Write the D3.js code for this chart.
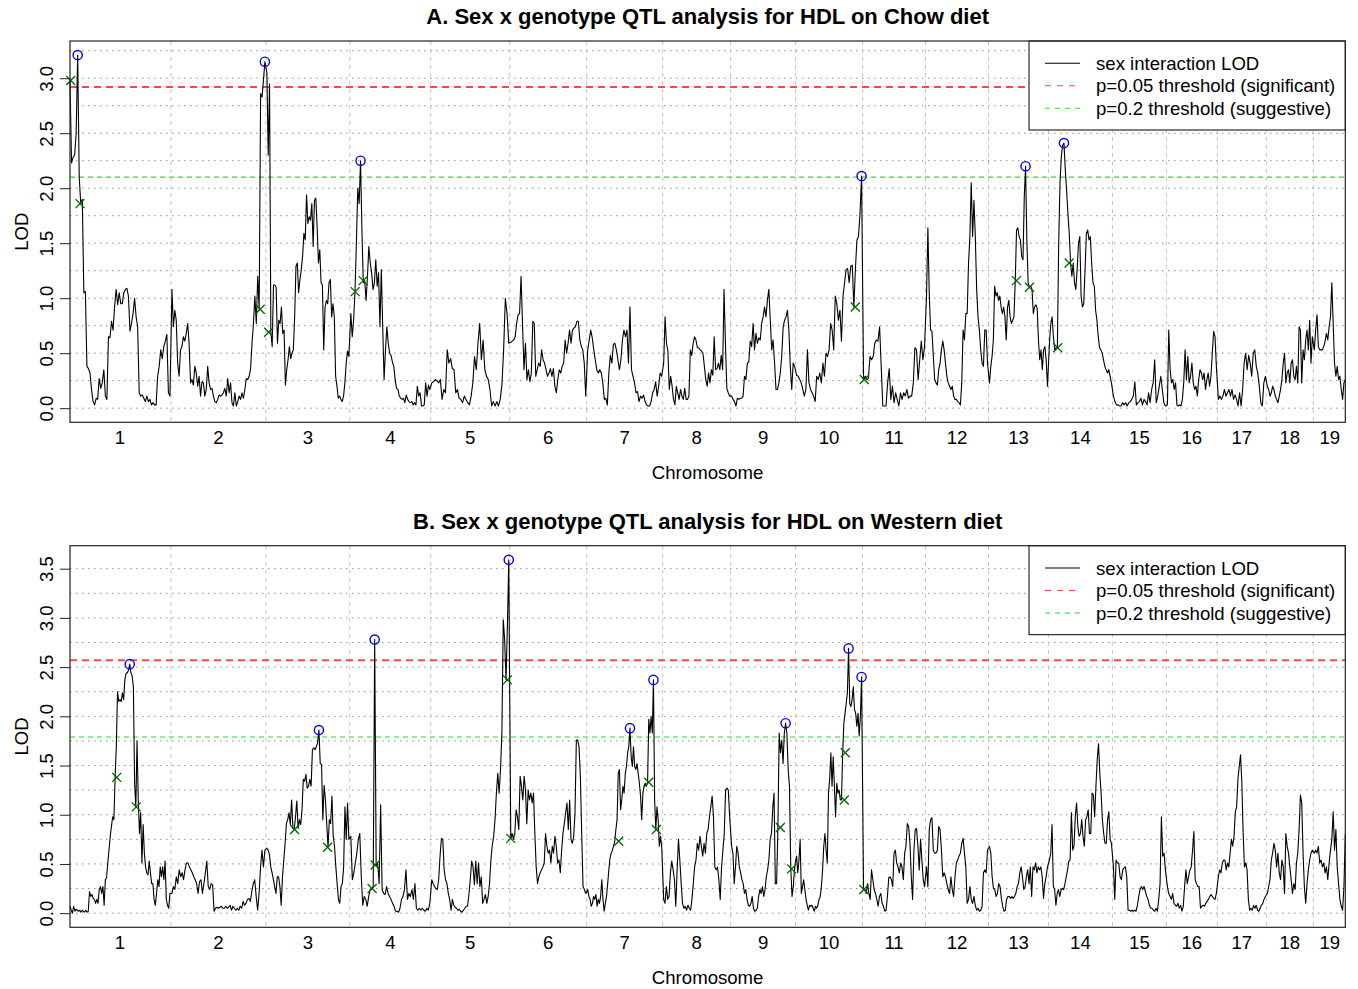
<!DOCTYPE html>
<html>
<head>
<meta charset="utf-8">
<script src="https://cdn.jsdelivr.net/npm/d3@7"></script>
<style>
body { margin: 0; background: #fff; }
svg text { font-family: "Liberation Sans", Arial, sans-serif; fill: #000; }
</style>
</head>
<body>
<div id="chart"></div>
<script>
// chromosome names and map lengths (cM)
var chrNames = ["1","2","3","4","5","6","7","8","9","10","11","12","13","14","15","16","17","18","19"];
var chrLengths = [100, 93, 82, 79, 77, 75, 74, 66, 63, 65, 61, 61, 58, 62, 52, 49, 47, 45, 31];

// LOD curve per chromosome (evenly spaced along each chromosome) - Chow diet
var chowLod = [
  [2.98,2.23,2.28,2.3,2.5,3.21,2.1,1.86,1.9,1.05,1.06,0.38,0.36,0.32,0.17,0.06,0.03,0.09,0.08,0.27,0.18,0.23,0.35,0.11,0.08,0.65,0.64,0.79,0.71,0.92,1.08,0.94,1.05,0.95,0.95,1.05,1.08,1.09,1.02,0.7,0.77,0.86,1.0,0.83,0.74,0.14,0.11,0.12,0.09,0.06,0.11,0.06,0.08,0.03,0.05,0.03,0.03,0.29,0.38,0.53,0.45,0.56,0.61,0.67,0.14,0.11],
  [1.08,0.74,0.89,0.8,0.41,0.29,0.53,0.56,0.65,0.61,0.68,0.77,0.59,0.23,0.26,0.21,0.38,0.32,0.2,0.29,0.11,0.24,0.23,0.11,0.17,0.38,0.23,0.17,0.18,0.11,0.06,0.05,0.08,0.12,0.11,0.12,0.14,0.18,0.11,0.27,0.14,0.23,0.05,0.02,0.14,0.02,0.06,0.11,0.08,0.14,0.09,0.17,0.27,0.26,0.29,0.36,0.59,0.77,1.02,0.77,1.2,0.9,2.86,2.83,2.98,3.15],
  [3.05,2.3,2.95,0.69,0.56,1.12,1.12,1.1,0.59,0.8,0.77,0.92,0.68,0.71,0.21,0.35,0.44,0.56,0.45,0.5,0.53,0.83,1.29,1.32,1.05,1.17,1.26,1.38,1.59,1.53,1.94,1.68,1.74,1.71,1.86,1.47,1.89,1.91,1.65,1.32,1.44,1.14,1.12,0.53,0.92,0.98,0.95,1.14,1.17,0.83,0.95,0.83,0.29,0.2,0.09,0.11,0.08,0.06,0.11,0.23,0.41,0.52,0.47],
  [0.86,0.65,0.8,1.06,1.5,2.0,1.86,2.25,1.62,1.14,1.16,0.98,1.2,1.47,1.32,1.23,1.08,1.14,1.35,1.11,1.23,0.74,1.26,0.74,0.26,0.53,0.74,0.59,0.5,0.48,0.42,0.38,0.26,0.18,0.17,0.11,0.09,0.08,0.09,0.05,0.12,0.08,0.06,0.05,0.06,0.03,0.05,0.03,0.2,0.11,0.14,0.02,0.02,0.03,0.23,0.11,0.21,0.17],
  [0.23,0.24,0.26,0.25,0.23,0.26,0.08,0.17,0.14,0.53,0.41,0.45,0.36,0.35,0.14,0.17,0.09,0.08,0.05,0.11,0.08,0.05,0.03,0.11,0.23,0.47,0.35,0.59,0.77,0.44,0.62,0.35,0.29,0.26,0.17,0.02,0.06,0.02,0.06,0.02,0.08,0.21,0.53,1.0,0.86,0.59],
  [0.6,0.61,0.62,0.65,0.77,0.85,0.86,1.2,0.77,0.35,0.59,0.26,0.35,0.24,0.32,0.79,0.77,0.29,0.35,0.41,0.38,0.53,0.44,0.41,0.35,0.29,0.32,0.36,0.29,0.36,0.2,0.14,0.26,0.35,0.32,0.38,0.41,0.62,0.5,0.59,0.71,0.59,0.71,0.73,0.74,0.79,0.79,0.62,0.56,0.53,0.41,0.11],
  [0.53,0.62,0.71,0.64,0.53,0.44,0.35,0.32,0.35,0.32,0.23,0.08,0.09,0.03,0.32,0.48,0.41,0.58,0.59,0.53,0.44,0.35,0.44,0.62,0.71,0.65,0.71,0.41,0.92,0.35,0.29,0.23,0.14,0.15,0.06,0.11,0.09,0.12,0.06,0.03,0.02,0.02,0.06,0.14,0.17,0.24,0.11,0.2,0.32,0.29],
  [0.41,0.83,0.59,0.52,0.17,0.29,0.2,0.08,0.03,0.2,0.14,0.08,0.17,0.11,0.08,0.18,0.08,0.08,0.11,0.53,0.48,0.59,0.65,0.62,0.55,0.55,0.53,0.52,0.5,0.38,0.26,0.2,0.32,0.23,0.35,0.3,0.65,0.35,0.36,0.41,0.35,0.48,0.35,1.08,0.59,0.18,0.14,0.11],
  [0.11,0.08,0.06,0.02,0.09,0.08,0.09,0.09,0.11,0.29,0.26,0.41,0.42,0.61,0.56,0.77,0.53,0.68,0.59,0.64,0.62,0.77,0.83,0.92,0.83,0.98,1.08,0.8,0.53,0.62,0.41,0.17,0.17,0.23,0.32,0.47,0.74,0.8,0.83,0.89,0.71,0.38,0.17,0.41,0.38],
  [0.3,0.29,0.26,0.23,0.17,0.11,0.17,0.53,0.23,0.17,0.14,0.11,0.06,0.29,0.26,0.32,0.23,0.41,0.29,0.5,0.47,0.53,0.77,0.71,0.53,1.02,0.95,0.8,0.89,0.61,1.02,1.14,1.26,1.27,1.14,1.29,1.3,0.92,1.26,1.53,1.56,1.77,2.11],
  [0.26,0.29,0.26,0.27,0.47,0.44,0.47,0.59,0.62,0.61,0.74,0.38,0.02,0.02,0.02,0.23,0.36,0.08,0.2,0.05,0.14,0.08,0.02,0.14,0.08,0.14,0.11,0.17,0.09,0.11,0.11,0.23,0.55,0.53,0.26,0.44,0.61,0.44,0.56],
  [1.02,1.64,1.05,0.71,0.7,0.48,0.26,0.23,0.21,0.35,0.41,0.53,0.61,0.53,0.41,0.29,0.23,0.2,0.17,0.2,0.11,0.08,0.08,0.06,0.05,0.03,0.23,0.71,0.62,0.86,0.86,1.32,1.56,2.05,1.56,1.89,1.56,1.08,0.83,0.71,0.53,0.41,0.38,0.71,0.71,0.41],
  [0.23,0.38,0.47,0.62,1.11,1.02,1.05,0.98,1.02,0.92,0.86,0.92,0.83,0.62,0.92,0.98,0.83,0.77,0.8,0.83,1.16,1.62,1.64,1.56,1.53,1.38,1.35,1.92,2.2,1.53,1.14,1.1,1.11,1.08,0.86,0.92,0.94,0.91,0.62,0.44,0.53,0.35,0.53,0.56,0.44,0.2],
  [0.59,0.77,0.83,0.65,0.53,0.55,0.55,1.5,2.05,2.29,2.39,2.41,2.17,1.98,1.77,1.59,1.32,1.2,1.32,1.14,1.08,1.26,1.5,1.56,1.02,0.92,0.95,1.26,1.59,1.62,1.53,1.56,1.32,1.14,1.11,0.89,0.8,0.65,0.55,0.53,0.5,0.44,0.38,0.35,0.32,0.35,0.29,0.23],
  [0.11,0.06,0.03,0.03,0.02,0.02,0.05,0.03,0.05,0.02,0.05,0.06,0.08,0.11,0.24,0.03,0.05,0.06,0.09,0.03,0.08,0.06,0.03,0.14,0.05,0.17,0.23,0.44,0.05,0.11,0.2,0.29,0.17,0.05,0.02],
  [0.03,0.71,0.35,0.23,0.26,0.17,0.23,0.03,0.02,0.03,0.02,0.08,0.23,0.53,0.26,0.47,0.23,0.29,0.41,0.23,0.17,0.2,0.11,0.26,0.35,0.32,0.26,0.32,0.17,0.26,0.32,0.2,0.29,0.5,0.7,0.65,0.38],
  [0.08,0.11,0.08,0.11,0.17,0.11,0.14,0.17,0.11,0.17,0.08,0.12,0.08,0.02,0.14,0.02,0.17,0.41,0.5,0.35,0.48,0.41,0.29,0.5,0.53,0.38,0.32,0.2,0.05,0.02,0.23,0.29],
  [0.2,0.17,0.11,0.14,0.2,0.17,0.11,0.08,0.05,0.11,0.17,0.26,0.41,0.5,0.23,0.32,0.35,0.23,0.41,0.44,0.29,0.26,0.38,0.23,0.74,0.71,0.23,0.53,0.44,0.62,0.71,0.53,0.8,0.41,0.65],
  [0.53,0.71,0.85,0.56,0.53,0.53,0.53,0.56,0.61,0.68,0.62,0.74,0.83,1.14,0.77,0.41,0.29,0.38,0.26,0.29,0.17,0.08,0.23,0.26]
];

// LOD curve per chromosome - Western diet
var westernLod = [
  [0.07,0.03,0.0,0.07,0.02,0.04,0.03,0.02,0.03,0.01,0.03,0.02,0.01,0.03,0.01,0.02,0.22,0.17,0.19,0.15,0.14,0.1,0.14,0.1,0.24,0.27,0.2,0.27,0.08,0.34,0.36,0.51,0.64,0.78,0.88,0.98,0.95,1.38,1.69,2.25,2.15,2.17,2.15,2.24,2.17,2.37,2.44,2.44,2.47,2.53,2.44,2.41,2.3,1.32,1.08,1.75,1.15,0.81,1.02,0.51,0.9,0.61,0.47,0.41,0.39,0.53,0.41,0.3,0.3,0.14,0.08,0.2,0.34,0.27,0.47,0.37,0.47,0.34,0.53,0.14,0.08,0.05,0.2],
  [0.2,0.27,0.24,0.37,0.3,0.44,0.37,0.41,0.34,0.44,0.51,0.51,0.47,0.44,0.41,0.37,0.34,0.3,0.2,0.32,0.34,0.2,0.3,0.41,0.53,0.27,0.24,0.3,0.29,0.02,0.05,0.06,0.05,0.06,0.07,0.05,0.05,0.07,0.05,0.06,0.08,0.03,0.07,0.05,0.03,0.05,0.03,0.07,0.05,0.12,0.08,0.1,0.14,0.15,0.12,0.22,0.3,0.34,0.17,0.03,0.2,0.47,0.64,0.47,0.64],
  [0.66,0.64,0.59,0.47,0.41,0.34,0.27,0.2,0.37,0.37,0.27,0.08,0.37,0.54,0.71,0.91,0.95,1.02,0.9,1.15,0.86,0.85,0.98,1.14,0.86,0.95,0.9,1.05,1.36,1.34,1.41,1.27,1.29,1.36,1.29,1.66,1.68,1.66,1.69,1.73,1.86,1.52,1.51,0.95,1.3,1.15,0.91,0.67,0.95,0.91,1.19,0.78,0.68,0.47,0.3,0.14,0.1,0.27,0.3,0.47,1.08,0.75,1.12,0.75],
  [0.78,0.34,0.41,0.51,0.61,0.75,0.81,0.37,0.08,0.17,0.14,0.07,0.17,0.24,0.25,0.27,2.78,0.48,0.51,0.3,1.1,0.24,0.2,0.19,0.27,0.2,0.17,0.14,0.1,0.07,0.02,0.02,0.01,0.05,0.14,0.17,0.24,0.44,0.14,0.2,0.17,0.24,0.14,0.3,0.05,0.03,0.05,0.03,0.05,0.03,0.02,0.05,0.03,0.1],
  [0.34,0.3,0.27,0.25,0.24,0.34,0.58,0.76,0.75,0.44,0.34,0.3,0.2,0.14,0.03,0.14,0.08,0.06,0.05,0.03,0.04,0.02,0.01,0.03,0.05,0.07,0.07,0.19,0.34,0.53,0.47,0.29,0.53,0.3,0.51,0.27,0.37,0.1,0.14,0.19,0.1,0.17,0.3,0.54,0.69,0.78,0.95,1.22,1.42,1.22,1.46,1.83,2.98,2.78,2.37,2.91,3.59],
  [0.76,0.81,0.75,0.81,1.05,0.98,0.85,1.39,1.29,1.15,1.39,1.25,0.91,1.25,1.15,1.22,1.12,1.22,0.81,0.47,0.3,0.37,0.41,0.44,0.47,0.51,0.81,0.68,0.61,0.64,0.51,0.68,0.61,0.78,0.68,0.51,0.54,0.41,0.64,0.81,0.91,1.02,1.12,0.85,1.15,0.75,0.71,0.78,1.02,1.76,1.76,1.69,1.39,0.81,0.27,0.24,0.2],
  [0.24,0.17,0.14,0.07,0.1,0.17,0.14,0.19,0.07,0.14,0.1,0.17,0.34,0.14,0.02,0.1,0.17,0.3,0.44,0.56,0.61,0.64,0.68,0.73,0.85,0.95,1.42,1.46,1.05,1.15,1.29,1.22,1.42,1.49,1.63,1.69,1.88,1.59,1.49,1.69,1.49,1.46,1.52,1.42,1.32,1.19,0.95,1.22,1.29,1.32,1.29,1.33,1.97,1.83,2.0,1.83,2.37,1.15,0.85,1.08,0.95,0.68,0.78,0.68],
  [0.14,0.1,0.27,0.14,0.17,0.41,0.53,0.44,0.34,0.07,0.44,0.75,0.54,0.3,0.1,0.05,0.07,0.03,0.08,0.05,0.03,0.14,0.3,0.47,0.54,0.71,0.64,0.78,0.68,0.58,0.71,0.61,0.81,0.85,0.98,1.08,1.19,0.98,0.47,0.44,0.47,0.34,0.14,0.47,0.64,0.81,1.25,1.27,1.25,0.98],
  [0.68,0.61,0.3,0.47,0.68,0.61,0.47,0.41,0.34,0.3,0.2,0.24,0.14,0.08,0.07,0.1,0.17,0.05,0.02,0.03,0.05,0.17,0.24,0.2,0.27,0.17,0.24,0.37,0.44,0.54,0.75,0.81,1.07,1.22,0.3,0.3,0.86,1.83,1.63,1.76,1.52,1.83,1.93,1.83,1.46,1.29,0.47,0.17,0.27,0.47],
  [0.58,0.41,0.54,0.75,0.2,0.27,0.34,0.24,0.14,0.08,0.03,0.08,0.07,0.08,0.05,0.02,0.07,0.05,0.08,0.14,0.17,0.27,0.44,0.68,0.81,0.64,0.51,1.22,1.36,1.63,1.29,1.59,1.29,0.98,1.32,1.22,1.25,1.15,1.15,1.63,1.93,2.03,2.13,2.24,2.69,2.13,2.1,2.17,2.3,2.07,2.03,1.9,2.03,1.8,2.0,2.4],
  [0.24,0.24,0.2,0.3,0.2,0.14,0.44,0.34,0.24,0.2,0.14,0.07,0.17,0.2,0.1,0.07,0.02,0.03,0.17,0.36,0.37,0.34,0.27,0.61,0.64,0.51,0.47,0.41,0.51,0.47,0.34,0.61,0.68,0.91,0.88,0.71,0.37,0.14,0.64,0.85,0.86,0.68,0.44,0.75,0.54,0.34,0.27],
  [0.47,0.27,0.85,0.95,0.97,0.64,0.61,0.61,0.64,0.88,0.85,0.64,0.37,0.41,0.37,0.3,0.24,0.2,0.37,0.24,0.17,0.37,0.51,0.54,0.58,0.61,0.71,0.76,0.61,0.47,0.1,0.14,0.27,0.14,0.1,0.17,0.08,0.03,0.05,0.02,0.03,0.07,0.41,0.44,0.41,0.64],
  [0.68,0.61,0.37,0.25,0.24,0.17,0.2,0.3,0.27,0.15,0.07,0.02,0.03,0.14,0.17,0.17,0.15,0.17,0.15,0.17,0.2,0.27,0.3,0.41,0.47,0.37,0.24,0.27,0.37,0.44,0.3,0.47,0.17,0.47,0.44,0.51,0.41,0.47,0.44,0.47,0.37,0.15,0.3,0.37,0.47],
  [0.54,0.61,0.9,0.27,0.24,0.08,0.2,0.24,0.17,0.24,0.25,0.24,0.3,0.37,0.44,0.53,0.54,1.02,0.64,0.68,0.98,1.12,0.88,0.78,0.81,0.95,0.78,0.68,0.95,0.98,1.05,0.81,0.81,1.22,1.2,0.98,1.29,1.56,1.72,1.42,1.22,0.95,0.81,0.71,0.71,0.95,1.03,0.75,0.71],
  [0.47,0.14,0.54,0.51,0.51,0.37,0.34,0.44,0.46,0.47,0.37,0.03,0.03,0.02,0.03,0.02,0.03,0.02,0.08,0.17,0.24,0.27,0.24,0.27,0.22,0.17,0.14,0.08,0.05,0.05,0.03,0.02,0.05,0.02,0.14,0.3,0.98,0.58,0.61,0.44],
  [0.27,0.2,0.17,0.14,0.2,0.1,0.08,0.07,0.1,0.05,0.08,0.02,0.07,0.27,0.44,0.3,0.37,0.44,0.47,0.64,0.83,0.34,0.3,0.27,0.27,0.05,0.07,0.08,0.07,0.1,0.12,0.14,0.17,0.19,0.17,0.15,0.14,0.2],
  [0.37,0.44,0.41,0.51,0.54,0.54,0.44,0.51,0.47,0.61,0.75,0.68,0.78,1.03,1.08,1.36,1.49,1.61,1.32,0.81,0.47,0.51,0.44,0.14,0.03,0.05,0.03,0.08,0.05,0.08,0.03,0.02,0.05,0.08,0.1,0.14,0.17],
  [0.2,0.27,0.34,0.54,0.61,0.71,0.64,0.47,0.61,0.41,0.34,0.54,0.47,0.2,0.81,0.68,0.61,0.47,0.34,0.2,0.3,0.24,0.51,0.61,0.85,1.2,1.12,0.61,0.27,0.1,0.3,0.44,0.54,0.61,0.64],
  [0.61,0.64,0.61,0.68,0.51,0.54,0.47,0.51,0.41,0.47,0.34,0.51,0.64,0.75,1.03,0.64,0.85,0.47,0.3,0.14,0.07,0.03,0.27,0.8]
];

// permutation thresholds [p=0.05, p=0.2]
var chowThresholds = [2.92, 2.10];
var westernThresholds = [2.57, 1.79];

// peaks: [chromosome, approx position cM]
var chowPeaks = [[1, 7.7], [2, 92.3], [4, 9.7], [10, 64.7], [13, 36.3], [14, 13.7]];
var westernPeaks = [[1, 61.7], [3, 52.3], [4, 23], [5, 76.3], [7, 45], [7, 66], [9, 55], [10, 53.7], [10, 64.7]];

// LOD support interval ends: [chromosome, position cM, LOD]
var chowCI = [[1, 0.7, 2.98], [1, 10, 1.86], [2, 88.3, 0.9], [3, 1.7, 0.69], [4, 4.3, 1.06], [4, 12.3, 1.16],
  [10, 58.7, 0.92], [11, 0.7, 0.26], [13, 27, 1.16], [13, 40, 1.1], [14, 8.3, 0.55], [14, 19.7, 1.32]];
var westernCI = [[1, 46.7, 1.38], [1, 66.3, 1.08], [3, 27.7, 0.85], [3, 60.7, 0.67], [4, 21.3, 0.25], [4, 24.3, 0.49],
  [5, 75.7, 2.37], [6, 0, 0.76], [7, 31, 0.73], [7, 61, 1.33], [7, 68.7, 0.85], [9, 48.7, 0.87], [9, 60, 0.45],
  [10, 48.7, 1.63], [10, 47.7, 1.15], [11, 0.3, 0.24]];

var legendLabels = ["sex interaction LOD", "p=0.05 threshold (significant)", "p=0.2 threshold (suggestive)"];

//svg base
var svgwdth = 1358;
var svghght = 989;
var plotLeft = 70, plotRight = 1345.3;
var fontSize = 18.6;

var svg = d3.select("#chart")
  .append("svg")
  .attr("width", svgwdth)
  .attr("height", svghght);

svg.append("rect").attr("width", svgwdth).attr("height", svghght).attr("fill", "#fff");

// genome coordinates: chromosomes laid end to end with small gap
var gap = 2;
var chrStart = [];
var acc = 0;
chrLengths.forEach(function(len) {
  chrStart.push(acc);
  acc += len + gap;
});
var genomeLen = acc - gap;

var xScale = d3.scaleLinear().domain([0, genomeLen]).range([plotLeft, plotRight]);

function chrPoints(vals, c) {
  var step = chrLengths[c] / (vals.length - 1);
  return vals.map(function(v, j) { return {pos: chrStart[c] + j * step, lod: v}; });
}

//find highest point of the curve near a given position
function peakPoint(lod, c, pos) {
  var pts = chrPoints(lod[c - 1], c - 1);
  var best = null;
  pts.forEach(function(p) {
    if (Math.abs(p.pos - chrStart[c - 1] - pos) <= 4 && (!best || p.lod > best.lod)) best = p;
  });
  return best;
}

var panels = [
  {title: "A. Sex x genotype QTL analysis for HDL on Chow diet", lod: chowLod, thr: chowThresholds,
   peaks: chowPeaks, ci: chowCI, top: 41, bottom: 422.3},
  {title: "B. Sex x genotype QTL analysis for HDL on Western diet", lod: westernLod, thr: westernThresholds,
   peaks: westernPeaks, ci: westernCI, top: 545.7, bottom: 927.3}
];

panels.forEach(drawPanel);

function drawPanel(p) {
  var g = svg.append("g");
  var maxLod = d3.max(p.lod, function(c) { return d3.max(c); });
  var ext = maxLod * 0.04;
  var yScale = d3.scaleLinear().domain([-ext, maxLod + ext]).range([p.bottom, p.top]);

  // dotted horizontal grid
  g.selectAll(".hgrid")
    .data(d3.range(0, maxLod + ext, 0.25))
    .enter().append("line")
    .attr("x1", plotLeft).attr("x2", plotRight)
    .attr("y1", function(d) { return yScale(d); })
    .attr("y2", function(d) { return yScale(d); })
    .attr("stroke", "#8c8c8c")
    .attr("stroke-width", 1)
    .attr("stroke-dasharray", "1.5,4.5");

  // chromosome boundaries
  g.selectAll(".vgrid")
    .data(d3.range(1, chrLengths.length))
    .enter().append("line")
    .attr("x1", function(i) { return xScale(chrStart[i] - gap / 2); })
    .attr("x2", function(i) { return xScale(chrStart[i] - gap / 2); })
    .attr("y1", p.top).attr("y2", p.bottom)
    .attr("stroke", "#c4c4c4")
    .attr("stroke-width", 1)
    .attr("stroke-dasharray", "4,4");

  // thresholds
  var thrColors = ["#ff4545", "#2fdc2f"];
  var thrWidths = [2, 1.2];
  var thrDash = ["7,5", "5,4"];
  p.thr.forEach(function(t, i) {
    g.append("line")
      .attr("x1", plotLeft).attr("x2", plotRight)
      .attr("y1", yScale(t)).attr("y2", yScale(t))
      .attr("stroke", thrColors[i])
      .attr("stroke-width", thrWidths[i])
      .attr("stroke-dasharray", thrDash[i]);
  });

  // LOD curve, all chromosomes joined in one line
  var line = d3.line()
    .x(function(d) { return xScale(d.pos); })
    .y(function(d) { return yScale(d.lod); });

  var allPoints = [];
  p.lod.forEach(function(vals, c) {
    allPoints = allPoints.concat(chrPoints(vals, c));
  });

  g.append("path")
    .datum(allPoints)
    .attr("d", line)
    .attr("fill", "none")
    .attr("stroke", "#000")
    .attr("stroke-width", 1.1)
    .attr("stroke-linejoin", "round");

  // support interval marks (x)
  p.ci.forEach(function(m) {
    var cx = xScale(chrStart[m[0] - 1] + m[1]);
    var cy = yScale(m[2]);
    var s = 4.5;
    g.append("path")
      .attr("d", "M" + (cx - s) + "," + (cy - s) + "L" + (cx + s) + "," + (cy + s) +
                 "M" + (cx - s) + "," + (cy + s) + "L" + (cx + s) + "," + (cy - s))
      .attr("stroke", "#006400")
      .attr("stroke-width", 1.3)
      .attr("fill", "none");
  });

  // peak circles
  p.peaks.forEach(function(pk) {
    var pt = peakPoint(p.lod, pk[0], pk[1]);
    g.append("circle")
      .attr("cx", xScale(pt.pos))
      .attr("cy", yScale(pt.lod))
      .attr("r", 4.6)
      .attr("fill", "none")
      .attr("stroke", "#0000ff")
      .attr("stroke-width", 1.4);
  });

  // legend (top right, white background)
  var lg = g.append("g").attr("transform", "translate(1029," + p.top + ")");
  lg.append("rect")
    .attr("width", plotRight - 1029).attr("height", 89)
    .attr("fill", "#fff").attr("stroke", "#000").attr("stroke-width", 1);
  var lgColors = ["#000", "#ff4545", "#2fdc2f"];
  var lgDash = [null, "6,6", "5,5"];
  legendLabels.forEach(function(lbl, i) {
    var ly = 22.3 + i * 22.5;
    lg.append("line")
      .attr("x1", 16).attr("x2", 51)
      .attr("y1", ly).attr("y2", ly)
      .attr("stroke", lgColors[i])
      .attr("stroke-width", 1.1)
      .attr("stroke-dasharray", lgDash[i]);
    lg.append("text")
      .attr("x", 67).attr("y", ly + 6.6)
      .style("font-size", fontSize + "px")
      .text(lbl);
  });

  // plot box
  g.append("rect")
    .attr("x", plotLeft).attr("y", p.top)
    .attr("width", plotRight - plotLeft).attr("height", p.bottom - p.top)
    .attr("fill", "none").attr("stroke", "#222").attr("stroke-width", 1.2);

  // y axis
  var leftAxis = d3.axisLeft(yScale)
    .tickValues(d3.range(0, maxLod, 0.5))
    .tickFormat(d3.format(".1f"))
    .tickSize(10)
    .tickSizeOuter(0);
  var yAxis = g.append("g")
    .attr("transform", "translate(" + plotLeft + ",0)")
    .call(leftAxis);
  yAxis.select(".domain").remove();
  yAxis.selectAll("line").attr("stroke", "#222");
  yAxis.selectAll("text")
    .attr("x", null).attr("dy", null)
    .attr("transform", "translate(-17,0) rotate(-90)")
    .attr("text-anchor", "middle")
    .style("font-size", fontSize + "px")
    .style("font-family", "'Liberation Sans', Arial, sans-serif")
    .attr("fill", "#000");

  // chromosome labels
  g.selectAll(".chrlabel")
    .data(chrNames)
    .enter().append("text")
    .attr("x", function(d, i) { return xScale(chrStart[i] + chrLengths[i] / 2); })
    .attr("y", p.bottom + 21.7)
    .attr("text-anchor", "middle")
    .style("font-size", fontSize + "px")
    .text(function(d) { return d; });

  g.append("text")
    .attr("x", (plotLeft + plotRight) / 2)
    .attr("y", p.bottom + 56.7)
    .attr("text-anchor", "middle")
    .style("font-size", fontSize + "px")
    .text("Chromosome");

  g.append("text")
    .attr("transform", "translate(28," + ((p.top + p.bottom) / 2) + ") rotate(-90)")
    .attr("text-anchor", "middle")
    .style("font-size", fontSize + "px")
    .text("LOD");

  // title
  g.append("text")
    .attr("x", (plotLeft + plotRight) / 2)
    .attr("y", p.top - 17)
    .attr("text-anchor", "middle")
    .style("font-size", "22px")
    .style("font-weight", "bold")
    .text(p.title);
}
</script>
</body>
</html>
